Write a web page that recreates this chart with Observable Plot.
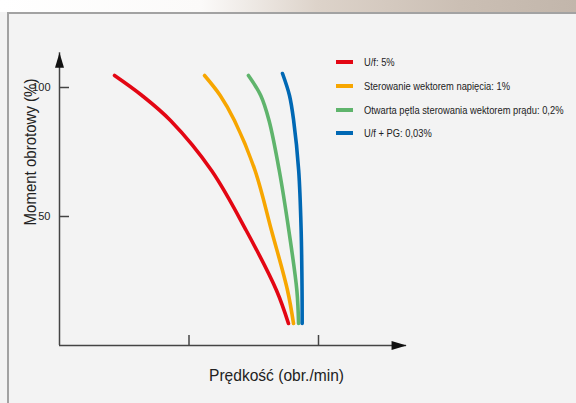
<!DOCTYPE html>
<html><head><meta charset="utf-8">
<script src="https://cdn.jsdelivr.net/npm/d3@7"></script>
<script src="https://cdn.jsdelivr.net/npm/@observablehq/plot@0.6"></script>
<style>
html,body{margin:0;padding:0;width:576px;height:403px;overflow:hidden;background:#f3f3f3;}
#wrap{position:relative;width:576px;height:403px;}
#strip{position:absolute;left:0;top:0;width:576px;height:12px;background:linear-gradient(90deg,#ffffff 0%,#fbfaf9 35%,#ddd3ca 55%,#cbbfb4 80%,#c2b6ab 100%);}
#frame{position:absolute;left:7px;top:12px;width:600px;height:420px;border-left:2px solid #a2a2a2;border-top:2px solid #a2a2a2;background:#f3f3f3;}
#chart{position:absolute;left:0;top:0;}
#legend{position:absolute;left:336px;top:55px;font-family:"Liberation Sans",Arial,sans-serif;font-size:10.5px;color:#222;}
.row{position:absolute;left:0;white-space:nowrap;height:14px;line-height:14px;}
.sw{position:absolute;left:0;top:5px;width:17px;height:4px;}
.lab{position:absolute;left:28px;top:0;transform:scaleX(0.89);transform-origin:0 50%;}
</style></head>
<body><div id="wrap"><div id="strip"></div><div id="frame"></div><div id="chart"></div><div id="legend"></div></div>
<script>
const seriesNames = ["U/f: 5%","Sterowanie wektorem napięcia: 1%","Otwarta pętla sterowania wektorem prądu: 0,2%","U/f + PG: 0,03%"];
const seriesColors = ["#e30613","#f7a600","#5fb46c","#0068b4"];
const torque = [104.65,96.90,87.21,67.83,44.57,21.32,8.53];
const redX = [0.425,0.637,0.857,1.174,1.442,1.676,1.768];
const orangeX = [1.120,1.241,1.351,1.510,1.637,1.761,1.807];
const greenX = [1.459,1.554,1.618,1.697,1.771,1.833,1.846];
const blueX = [1.722,1.776,1.808,1.847,1.866,1.873,1.874];
const blueY = [105.43,96.90,87.21,67.83,44.57,21.32,8.53];
const yTicks = [50,100];
const xTicks = [1,2];
const yAxisTop = 113.5;
const xAxisEnd = 2.68;
const xTitle = "Prędkość (obr./min)";
const yTitle = "Moment obrotowy (%)";

const seriesX = [redX, orangeX, greenX, blueX];
const seriesY = [torque, torque, torque, blueY];
const rows = [];
seriesNames.forEach((name,i)=>seriesX[i].forEach((x,j)=>rows.push({series:name,x,y:seriesY[i][j]})));

const upTri = {draw(ctx){ctx.moveTo(0,0);ctx.lineTo(-4.5,15);ctx.lineTo(4.5,15);ctx.closePath();}};
const rightTri = {draw(ctx){ctx.moveTo(0,0);ctx.lineTo(-15,-4.5);ctx.lineTo(-15,4.5);ctx.closePath();}};
const font = '"Liberation Sans",Arial,sans-serif';

const plot = Plot.plot({
  width:576, height:403, margin:0,
  style:{background:"transparent", fontFamily:font},
  x:{domain:[0,2], range:[59,318], axis:null},
  y:{domain:[0,100], range:[345,87], axis:null},
  color:{domain:seriesNames, range:seriesColors},
  marks:[
    Plot.ruleX([0],{y1:0,y2:yAxisTop,stroke:"#444",strokeWidth:1.5}),
    Plot.ruleY([0],{x1:0,x2:xAxisEnd,stroke:"#444",strokeWidth:1.5}),
    Plot.tickY(yTicks,{y:d=>d,insetLeft:59,insetRight:507,stroke:"#444",strokeWidth:1.5}),
    Plot.tickX(xTicks,{x:d=>d,insetTop:335,insetBottom:58,stroke:"#444",strokeWidth:1.5}),
    Plot.dot([{x:0,y:yAxisTop}],{x:"x",y:"y",symbol:upTri,fill:"#111",stroke:null}),
    Plot.dot([{x:xAxisEnd,y:0}],{x:"x",y:"y",symbol:rightTri,fill:"#111",stroke:null}),
    Plot.text(yTicks,{x:0,y:d=>d,text:d=>String(d),textAnchor:"end",dx:-9,fontSize:11,fill:"#222"}),
    Plot.line(rows,{x:"x",y:"y",z:"series",stroke:"series",strokeWidth:3.6,curve:"catmull-rom"}),
    Plot.text([yTitle],{frameAnchor:"top-left",dx:23,dy:151.5,rotate:-90,textAnchor:"middle",fontSize:17,fill:"#222",text:d=>d,className:"ytitle"}),
    Plot.text([xTitle],{frameAnchor:"top-left",dx:276,dy:368,textAnchor:"middle",fontSize:17,fill:"#222",text:d=>d,className:"xtitle"})
  ]
});
d3.select(plot).selectAll(".ytitle text").attr("textLength",147).attr("lengthAdjust","spacingAndGlyphs");
d3.select(plot).selectAll(".xtitle text").attr("textLength",135).attr("lengthAdjust","spacingAndGlyphs");
document.getElementById("chart").appendChild(plot);

const leg = document.getElementById("legend");
const tops = [0,24,47.5,71];
seriesNames.forEach((n,i)=>{
  const r=document.createElement("div");r.className="row";r.style.top=tops[i]+"px";
  r.innerHTML=`<div class="sw" style="background:${seriesColors[i]}"></div><div class="lab">${n}</div>`;
  leg.appendChild(r);
});
</script></body></html>
